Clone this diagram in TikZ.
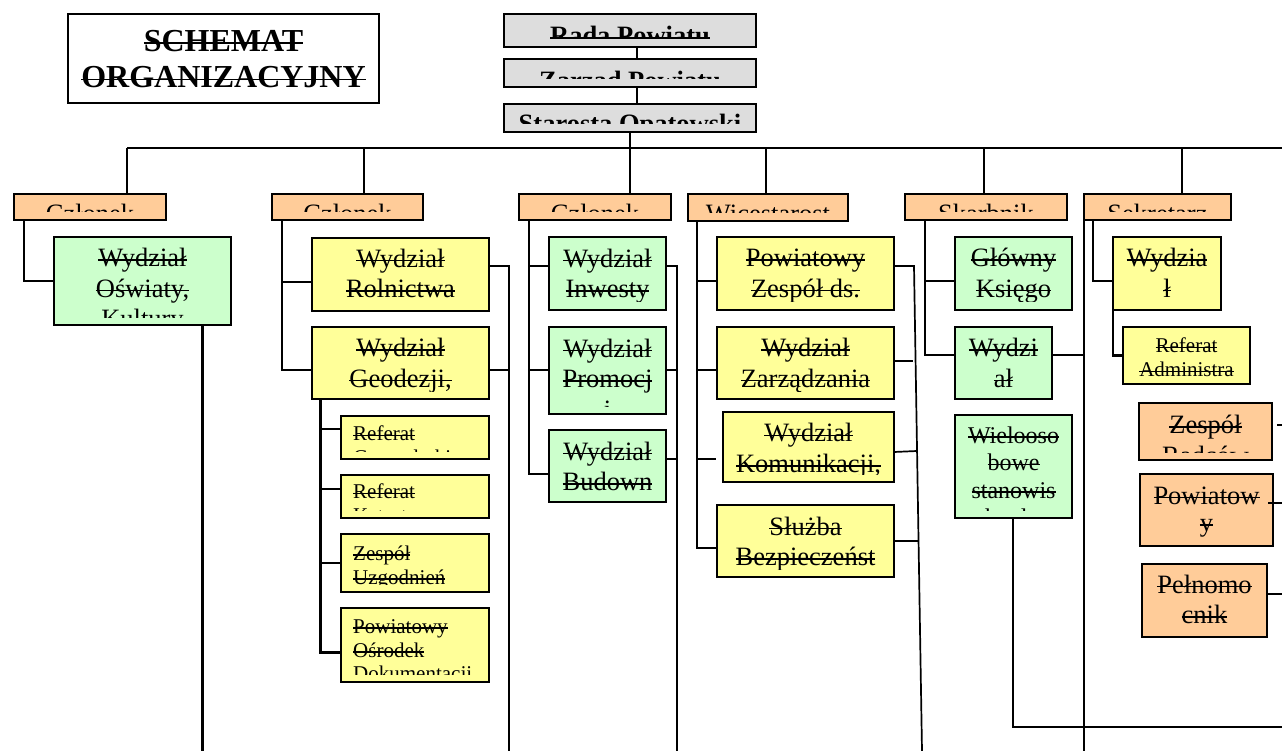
\documentclass[tikz,border=0pt]{standalone}
\usepackage{fontspec}
\setmainfont{Liberation Serif}
\definecolor{cgray}{HTML}{DDDDDD}
\definecolor{corange}{HTML}{FFCC99}
\definecolor{cgreen}{HTML}{CCFFCC}
\definecolor{cyellow}{HTML}{FFFF99}
\newsavebox\sobox
\newcommand\so[1]{\sbox\sobox{#1}\usebox\sobox\llap{\rule[\dimexpr0.25em-0.75pt\relax]{\wd\sobox}{1.5pt}}}
\tikzset{
 box/.style={draw=black, line width=2.3pt, inner sep=0pt, outer sep=0pt, anchor=north west},
 ln/.style={line width=2.3pt},
 lnb/.style={line width=3pt},
 lnt/.style={line width=1.7pt},
 fbig/.style={font=\fontsize{26.5}{30.5}\selectfont},
 fbold/.style={font=\bfseries\fontsize{26.5}{30.5}\selectfont},
 fsmall/.style={font=\fontsize{21}{23.8}\selectfont},
 fmid/.style={font=\fontsize{24}{27.5}\selectfont},
 ftitle/.style={font=\bfseries\fontsize{32}{36.5}\selectfont},
}
\newcommand\bx[6]{\node[box, fill=#6, minimum width={(#4-#2-2)*1pt}, minimum height={(#5-#3-2)*1pt}] (#1) at (#2+1,#3+1) {};}
\newcommand\ctxt[4]{%
 \begin{scope}
 \clip ([shift={(1,1)}]#1.north west) rectangle ([shift={(-1,-8)}]#1.south east);
 \node[#2, anchor=north, align=center, inner sep=0pt] (#1t) at ([shift={(0,#3-23)}]#1.north) {\rule{0pt}{22pt}#4};
 \end{scope}}
\newcommand\ltxt[5]{%
 \begin{scope}
 \clip ([shift={(1,1)}]#1.north west) rectangle ([shift={(-1,-8)}]#1.south east);
 \node[#2, anchor=north west, align=left, inner sep=0pt] (#1t) at ([shift={(#4-1,#3-23)}]#1.north west) {\rule{0pt}{22pt}#5};
 \end{scope}}
\begin{document}
\begin{tikzpicture}[x=1pt,y=-1pt]
\useasboundingbox (0,0) rectangle (1282,751);
% title
\node[draw, line width=2.3pt, minimum width=311pt, minimum height=89pt, anchor=north west, inner sep=0pt, outer sep=0pt] (title) at (68,14) {};
\node[ftitle, align=center, anchor=north, inner sep=0pt] (titlet) at ([shift={(0,38-27)}]title.north) {\rule{0pt}{26pt}\so{SCHEMAT}\\\so{ORGANIZACYJNY}};
% boxes
\bx{rada}{503}{13}{757}{48}{cgray}
\bx{zarzad}{503}{58}{757}{88}{cgray}
\bx{starosta}{503}{103}{757}{133}{cgray}
\bx{c1}{13}{193}{167}{221}{corange}
\bx{c2}{271}{193}{424}{221}{corange}
\bx{c3}{518}{193}{672}{221}{corange}
\bx{wice}{687}{193}{849}{222}{corange}
\bx{skarb}{904}{193}{1068}{221}{corange}
\bx{sekr}{1083}{193}{1232}{221}{corange}
\bx{osw}{53}{236}{232}{326}{cgreen}
\bx{rol}{311}{237}{490}{312}{cyellow}
\bx{geo}{311}{326}{490}{400}{cyellow}
\bx{refa}{340}{415}{490}{460}{cyellow}
\bx{refb}{340}{474}{490}{519}{cyellow}
\bx{zesp}{340}{533}{490}{593}{cyellow}
\bx{pod}{340}{607}{490}{683}{cyellow}
\bx{inw}{548}{236}{667}{311}{cgreen}
\bx{prom}{548}{326}{667}{415}{cgreen}
\bx{bud}{548}{429}{667}{503}{cgreen}
\bx{pzd}{716}{236}{895}{311}{cyellow}
\bx{zarz}{716}{326}{895}{400}{cyellow}
\bx{kom}{722}{411}{895}{483}{cyellow}
\bx{sluz}{716}{504}{895}{578}{cyellow}
\bx{gk}{954}{236}{1073}{311}{cgreen}
\bx{wyd}{954}{326}{1053}{400}{cgreen}
\bx{wielo}{954}{414}{1073}{519}{cgreen}
\bx{wydl}{1112}{236}{1222}{311}{cyellow}
\bx{refadm}{1122}{326}{1251}{385}{cyellow}
\bx{radc}{1138}{402}{1273}{461}{corange}
\bx{pow}{1139}{473}{1274}{547}{corange}
\bx{peln}{1141}{563}{1268}{638}{corange}
% texts
\ctxt{rada}{fbold}{31.5}{\so{Rada Powiatu}}
\ctxt{zarzad}{fbold}{31.5}{\so{Zarząd Powiatu}}
\ctxt{starosta}{fbold}{29.5}{\so{Starosta Opatowski}}
\ctxt{c1}{fbig}{29.5}{\so{Członek}}
\ctxt{c2}{fbig}{29.5}{\so{Członek}}
\ctxt{c3}{fbig}{29.5}{\so{Członek}}
\ctxt{wice}{fbig}{29.5}{\so{Wicestarost}}
\ctxt{skarb}{fbig}{29.5}{\so{Skarbnik}}
\ctxt{sekr}{fbig}{29.5}{\so{Sekretarz}}
\ctxt{osw}{fbig}{30.5}{\so{Wydział}\\\so{Oświaty,}\\\so{Kultury}}
\ctxt{rol}{fbig}{30}{\so{Wydział}\\\so{Rolnictwa}}
\ctxt{geo}{fbig}{30.5}{\so{Wydział}\\\so{Geodezji,}}
\ltxt{refa}{fsmall}{25.5}{13}{\so{Referat}\\\so{Gospodarki}}
\ltxt{refb}{fsmall}{24.5}{13}{\so{Referat}\\\so{Katastru}}
\ltxt{zesp}{fsmall}{27}{13}{\so{Zespół}\\\so{Uzgodnień}}
\ltxt{pod}{fsmall}{26}{13}{\so{Powiatowy}\\\so{Ośrodek}\\\so{Dokumentacji}}
\ctxt{inw}{fbig}{31}{\so{Wydział}\\\so{Inwesty}}
\ctxt{prom}{fbig}{31}{\so{Wydział}\\\so{Promocj}\\\so{i}}
\ctxt{bud}{fbig}{31}{\so{Wydział}\\\so{Budown}}
\ctxt{pzd}{fbig}{30.5}{\so{Powiatowy}\\\so{Zespół ds.}}
\ctxt{zarz}{fbig}{30.5}{\so{Wydział}\\\so{Zarządzania}}
\ctxt{kom}{fbig}{30.7}{\so{Wydział}\\\so{Komunikacji,}}
\ctxt{sluz}{fbig}{31}{\so{Służba}\\\so{Bezpieczeńst}}
\ctxt{gk}{fbig}{30.5}{\so{Główny}\\\so{Księgo}}
\ctxt{wyd}{fbig}{30.5}{\so{Wydzi}\\\so{ał}}
\ctxt{wielo}{fmid}{29}{\so{Wielooso}\\\so{bowe}\\\so{stanowis}\\\so{ko ds.}}
\ctxt{wydl}{fbig}{30.5}{\so{Wydzia}\\\so{ł}}
\ctxt{refadm}{fsmall}{26.5}{\so{Referat}\\\so{Administra}}
\ctxt{radc}{fbig}{31.3}{\so{Zespół}\\\so{Radców}}
\ctxt{pow}{fbig}{31}{\so{Powiatow}\\[-3pt]\so{y}}
\ctxt{peln}{fbig}{30}{\so{Pełnomo}\\\so{cnik}}
% connectors top
\draw[ln] (rada.south -| 637,0) -- (zarzad.north -| 637,0);
\draw[ln] (zarzad.south -| 637,0) -- (starosta.north -| 637,0);
\draw[ln] (starosta.south -| 630,0) -- (c3.north -| 630,0);
\coordinate (busL) at (127,148);
\coordinate (busR) at (1282,148);
\draw[ln] (busL) -- (busR);
\draw[ln] (busL) -- (c1.north -| busL);
\draw[ln] (364,148) -- (c2.north -| 364,0);
\draw[ln] (766,148) -- (wice.north -| 766,0);
\draw[ln] (984,148) -- (skarb.north -| 984,0);
\draw[ln] (1182,148) -- (sekr.north -| 1182,0);
% column 1
\draw[ln] (c1.south -| 24,0) |- (osw.west);
\draw[lnb] (osw.south -| 202,0) -- (202,751);
% column 2
\draw[ln] (c2.south -| 282,0) |- (geo.west |- 0,370);
\draw[ln] (282,282) -- (rol.west |- 0,282);
\draw[lnb] (geo.south -| 320,0) |- (pod.west |- 0,652);
\draw[ln] (320,429) -- (refa.west |- 0,429);
\draw[ln] (320,489) -- (refb.west |- 0,489);
\draw[ln] (320,563) -- (zesp.west |- 0,563);
\draw[ln] (rol.east |- 0,266) -| (509,751);
\draw[ln] (geo.east |- 0,370) -- (509,370);
% column 3
\draw[ln] (c3.south -| 529,0) |- (bud.west |- 0,474);
\draw[ln] (529,266) -- (inw.west |- 0,266);
\draw[ln] (529,370) -- (prom.west |- 0,370);
\draw[ln] (inw.east |- 0,266) -| (677,751);
\draw[ln] (prom.east |- 0,370) -- (677,370);
\draw[ln] (bud.east |- 0,459) -- (677,459);
% wicestarosta
\draw[ln] (wice.south -| 697,0) |- (sluz.west |- 0,548);
\draw[ln] (697,281) -- (pzd.west |- 0,281);
\draw[ln] (697,370) -- (zarz.west |- 0,370);
\coordinate (komL) at (716,459);
\draw[ln] (697,459) -- (komL);
\coordinate (sA) at (914,266);
\coordinate (sB) at (922,751);
\draw[lnt] (pzd.east |- sA) -- (sA) -- (sB);
\draw[lnt] (zarz.east |- 0,361) -- (913,361);
\draw[lnt] (kom.east |- 0,452) -- (917,451);
\draw[lnt] (sluz.east |- 0,541) -- (918,541);
% skarbnik
\draw[ln] (skarb.south -| 925,0) |- (wyd.west |- 0,355);
\draw[ln] (925,281) -- (gk.west |- 0,281);
\draw[ln] (wyd.east |- 0,355) -- (1083,355);
\draw[ln] (wielo.south -| 1013,0) |- (1282,727);
% sekretarz
\draw[ln] (sekr.south west) -- (sekr.south west |- 0,751);
\draw[ln] (sekr.south -| 1093,0) |- (wydl.west |- 0,281);
\draw[ln] (wydl.south -| 1113,0) |- (refadm.west);
\draw[ln] (1277,425) -- (1282,425);
\draw[ln] (1268,503) -- (1282,503);
\draw[ln] (peln.east |- 0,594) -- (1282,594);
\end{tikzpicture}
\end{document}
